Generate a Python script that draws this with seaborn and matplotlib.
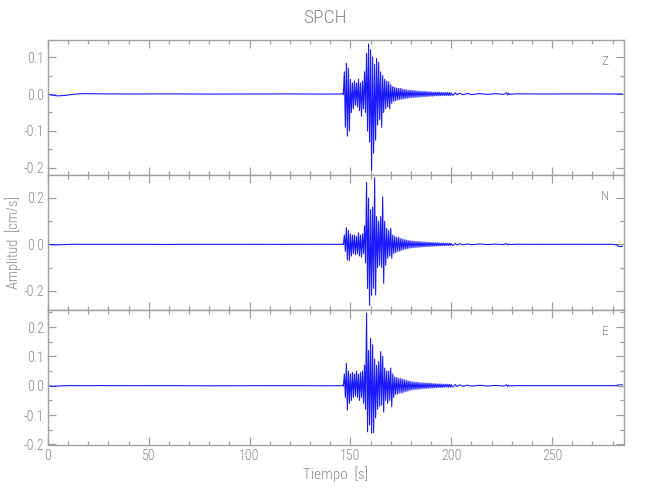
import numpy as np
import pandas as pd
import seaborn as sns
import matplotlib
matplotlib.use("Agg")
import matplotlib.pyplot as plt
from matplotlib import font_manager
from matplotlib.ticker import MultipleLocator, FormatStrFormatter

# ---------------- data ----------------
title = "SPCH"
components = ["Z", "N", "E"]

# quiet part before the arrival (time [s], amplitude [cm/s])
pre_t = [0, 1, 3, 5, 8, 11, 14, 18, 25, 40, 60, 80, 100, 120, 135, 145.5]
pre_Z = [0.0, -0.002, -0.004, -0.005, -0.004, -0.002, 0.0, 0.001, 0.0005, 0.0, 0.0003, -0.0002, 0.0, 0.0002, -0.0002, 0.0]
pre_N = [0.0, -0.001, -0.002, -0.002, -0.001, 0.0, 0.0005, 0.0, 0.0002, 0.0, -0.0003, 0.0002, 0.0, -0.0002, 0.0003, 0.0]
pre_E = [0.0, -0.001, -0.002, -0.001, 0.0, 0.0005, 0.0003, 0.0, 0.0005, 0.0, 0.0002, -0.0003, 0.0, 0.0003, -0.0002, 0.0]

# strong-motion part: upper / lower swing every second from 146 s to 200 s
burst_t = list(range(146, 201))
Z_up = [0.002, 0.060, 0.083, 0.070, 0.040, 0.030, 0.035, 0.030, 0.040, 0.030,
        0.035, 0.060, 0.110, 0.135, 0.120, 0.100, 0.080, 0.096, 0.085, 0.060,
        0.050, 0.040, 0.035, 0.033, 0.025, 0.020, 0.018, 0.016, 0.015, 0.015,
        0.013, 0.012, 0.011, 0.010, 0.010, 0.009, 0.009, 0.008, 0.008, 0.007,
        0.007, 0.007, 0.006, 0.006, 0.006, 0.005, 0.005, 0.005, 0.005, 0.004,
        0.004, 0.004, 0.004, 0.004, 0.003]
Z_dn = [-0.002, -0.090, -0.114, -0.100, -0.050, -0.040, -0.030, -0.035, -0.045, -0.060,
        -0.040, -0.050, -0.100, -0.130, -0.207, -0.160, -0.125, -0.084, -0.070, -0.090,
        -0.050, -0.040, -0.035, -0.040, -0.025, -0.020, -0.018, -0.016, -0.015, -0.014,
        -0.013, -0.012, -0.011, -0.010, -0.010, -0.009, -0.009, -0.008, -0.008, -0.007,
        -0.007, -0.007, -0.006, -0.006, -0.006, -0.005, -0.005, -0.005, -0.005, -0.004,
        -0.004, -0.004, -0.004, -0.004, -0.003]
N_up = [0.002, 0.040, 0.072, 0.060, 0.045, 0.040, 0.040, 0.035, 0.050, 0.040,
        0.045, 0.080, 0.267, 0.200, 0.150, 0.160, 0.287, 0.120, 0.100, 0.120,
        0.205, 0.100, 0.069, 0.060, 0.070, 0.040, 0.035, 0.030, 0.030, 0.025,
        0.022, 0.020, 0.018, 0.016, 0.015, 0.014, 0.013, 0.012, 0.012, 0.011,
        0.010, 0.010, 0.009, 0.009, 0.008, 0.008, 0.007, 0.007, 0.006, 0.006,
        0.006, 0.005, 0.005, 0.005, 0.004]
N_dn = [-0.002, -0.030, -0.068, -0.070, -0.050, -0.040, -0.045, -0.040, -0.050, -0.055,
        -0.040, -0.080, -0.190, -0.264, -0.220, -0.190, -0.218, -0.100, -0.090, -0.100,
        -0.168, -0.090, -0.060, -0.050, -0.060, -0.040, -0.035, -0.030, -0.030, -0.025,
        -0.022, -0.020, -0.018, -0.016, -0.015, -0.014, -0.013, -0.012, -0.012, -0.011,
        -0.010, -0.010, -0.009, -0.009, -0.008, -0.008, -0.007, -0.007, -0.006, -0.006,
        -0.006, -0.005, -0.005, -0.005, -0.004]
E_up = [0.002, 0.040, 0.076, 0.050, 0.040, 0.045, 0.040, 0.050, 0.040, 0.045,
        0.050, 0.070, 0.247, 0.120, 0.161, 0.140, 0.090, 0.070, 0.082, 0.116,
        0.100, 0.060, 0.050, 0.050, 0.060, 0.040, 0.030, 0.028, 0.025, 0.025,
        0.022, 0.020, 0.018, 0.016, 0.014, 0.013, 0.012, 0.012, 0.011, 0.010,
        0.010, 0.009, 0.009, 0.008, 0.008, 0.007, 0.007, 0.006, 0.006, 0.006,
        0.005, 0.005, 0.005, 0.005, 0.004]
E_dn = [-0.002, -0.040, -0.083, -0.060, -0.050, -0.040, -0.035, -0.040, -0.050, -0.040,
        -0.060, -0.080, -0.157, -0.134, -0.162, -0.160, -0.110, -0.080, -0.070, -0.066,
        -0.090, -0.050, -0.060, -0.050, -0.072, -0.040, -0.030, -0.028, -0.025, -0.025,
        -0.022, -0.020, -0.018, -0.016, -0.014, -0.013, -0.012, -0.012, -0.011, -0.010,
        -0.010, -0.009, -0.009, -0.008, -0.008, -0.007, -0.007, -0.006, -0.006, -0.006,
        -0.005, -0.005, -0.005, -0.005, -0.004]

# coda / late part
post_t = [201, 202, 203, 204, 206, 208, 210, 214, 218, 222, 226, 227.5, 228, 228.5, 229, 232, 245, 260, 275, 280, 282, 283, 284, 285]
post_Z = [-0.003, 0.003, -0.002, 0.002, -0.002, 0.0015, -0.0015, 0.001, -0.001, 0.001, -0.001, 0.003, -0.003, 0.002, -0.001, 0.0005, 0.0, 0.0003, 0.0, 0.0, 0.0, 0.0, 0.0, 0.0]
post_N = [-0.004, 0.004, -0.003, 0.003, -0.002, 0.002, -0.0015, 0.0015, -0.001, 0.001, -0.001, 0.003, -0.003, 0.002, -0.001, 0.0005, 0.0, 0.0003, 0.0, 0.0, -0.002, -0.008, -0.010, -0.008]
post_E = [-0.004, 0.004, -0.003, 0.003, -0.002, 0.002, -0.0015, 0.0015, -0.001, 0.001, -0.001, 0.003, -0.003, 0.002, -0.001, 0.0005, 0.0, 0.0003, 0.0, 0.0, 0.001, 0.003, 0.003, 0.003]

ylims = [(-0.219, 0.146), (-0.283, 0.299), (-0.202, 0.258)]
ymajor = [0.1, 0.2, 0.1]
yminor = [0.05, 0.1, 0.05]


def build(pre_v, up, dn, post_v):
    t, v = list(pre_t), list(pre_v)
    for tb, u, d in zip(burst_t, up, dn):
        t += [tb, tb + 0.5]
        v += [u, d]
    t += post_t
    v += post_v
    return pd.DataFrame({"t": t, "v": v})


traces = [build(pre_Z, Z_up, Z_dn, post_Z),
          build(pre_N, N_up, N_dn, post_N),
          build(pre_E, E_up, E_dn, post_E)]

# ---------------- style ----------------
sns.set_style("ticks")
available = {f.name for f in font_manager.fontManager.ttflist}
family = "DejaVu Sans"
for cand in ["Liberation Sans Narrow", "DejaVu Sans Condensed", "Roboto Condensed",
             "Open Sans Condensed", "Roboto", "Lato"]:
    if cand in available:
        family = cand
        break
plt.rcParams["font.family"] = [family, "DejaVu Sans"]
plt.rcParams["font.weight"] = "light"
plt.rcParams["axes.labelweight"] = "light"
grey = "#8a8a8a"
plt.rcParams.update({
    "axes.edgecolor": "#a0a0a0",
    "axes.linewidth": 1.0,
    "xtick.color": "#a0a0a0",
    "ytick.color": "#a0a0a0",
    "xtick.labelcolor": grey,
    "ytick.labelcolor": grey,
    "axes.unicode_minus": True,
})

fig = plt.figure(figsize=(6.5, 5.0), dpi=100)
left, width = 48 / 650, 576 / 650
tops = [40, 175, 310]
h = 135 / 500
axes = []
for i in range(3):
    bottom = 1 - (tops[i] + 135) / 500
    ax = fig.add_axes([left, bottom, width, h])
    axes.append(ax)

for i, ax in enumerate(axes):
    sns.lineplot(data=traces[i], x="t", y="v", ax=ax, color="#0000ff",
                 lw=0.8, alpha=0.9, estimator=None, sort=False, errorbar=None)
    ax.set_xlim(0, 285.7)
    ax.set_ylim(*ylims[i])
    ax.xaxis.set_major_locator(MultipleLocator(50))
    ax.xaxis.set_minor_locator(MultipleLocator(10))
    ax.yaxis.set_major_locator(MultipleLocator(ymajor[i]))
    ax.yaxis.set_minor_locator(MultipleLocator(yminor[i]))
    ax.yaxis.set_major_formatter(FormatStrFormatter("%.1f"))
    ax.tick_params(which="both", direction="in", top=True, right=True,
                   labelsize=10, pad=3)
    ax.tick_params(which="major", length=6, width=0.9)
    ax.tick_params(which="minor", length=3, width=0.9)
    ax.set_xlabel("")
    ax.set_ylabel("")
    if i < 2:
        ax.tick_params(labelbottom=False)
    ax.text(0.967, 0.84, components[i], transform=ax.transAxes,
            ha="center", va="center", color=grey, fontsize=9.5,
            fontweight="light")

axes[2].set_xlabel("Tiempo  [s]", color=grey, fontsize=11, labelpad=2,
                   fontweight="light")
fig.text(13 / 650, 1 - 243 / 500, "Amplitud  [cm/s]", rotation=90,
         ha="center", va="center", color=grey, fontsize=10.5,
         fontweight="light")
fig.text(0.5, 1 - 18 / 500, title, ha="center", va="center", color=grey,
         fontsize=14, fontweight="light")

fig.savefig("out.png", dpi=100, facecolor="white")
